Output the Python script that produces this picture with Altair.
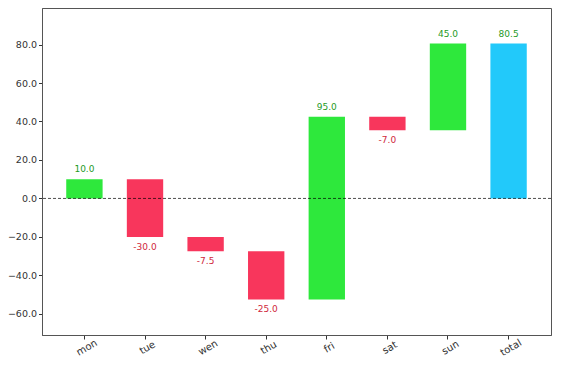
import altair as alt
import pandas as pd

days = ["mon", "tue", "wen", "thu", "fri", "sat", "sun", "total"]
changes = [10, -30, -7.5, -25, 95, -7, 45]

rows = []
cum = 0.0
for d, v in zip(days[:-1], changes):
    start, end = cum, cum + v
    cum = end
    rows.append({"day": d, "start": start, "end": end, "value": v,
                 "kind": "pos" if v >= 0 else "neg"})
rows.append({"day": days[-1], "start": 0.0, "end": cum, "value": cum, "kind": "total"})
df = pd.DataFrame(rows)
df["top"] = df[["start", "end"]].max(axis=1)
df["bottom"] = df[["start", "end"]].min(axis=1)
df["label"] = df["value"].map(lambda x: f"{x:.1f}")

FONT = "DejaVu Sans"
xenc = alt.X("day:N", sort=days, title=None,
             scale=alt.Scale(paddingInner=0.4, paddingOuter=0.4),
             axis=alt.Axis(labelAngle=-30, labelAlign="center", labelBaseline="top",
                           labelFontSize=10, labelColor="#333", tickColor="#333",
                           domainColor="#555", tickSize=4, labelPadding=4, grid=False))
yscale = alt.Scale(domain=[-71, 99], nice=False, zero=False)

base = alt.Chart(df)
bars = base.mark_bar().encode(
    x=xenc,
    y=alt.Y("start:Q", scale=yscale, title=None,
            axis=alt.Axis(values=[-60, -40, -20, 0, 20, 40, 60, 80],
                          labelExpr="format(datum.value, '.1f')",
                          labelFontSize=9.5, labelColor="#333", tickColor="#333",
                          domainColor="#555", tickSize=3.5, labelPadding=2, grid=False)),
    y2="end:Q",
    color=alt.Color("kind:N", legend=None,
                    scale=alt.Scale(domain=["pos", "neg", "total"],
                                    range=["#2ee83c", "#f8365c", "#22c9fa"])),
)

pos_text = base.transform_filter("datum.kind != 'neg'").mark_text(
    baseline="bottom", dy=-5, fontSize=9, font=FONT, color="#1f9a1f"
).encode(x=alt.X("day:N", sort=days), y=alt.Y("top:Q", scale=yscale), text="label:N")

neg_text = base.transform_filter("datum.kind == 'neg'").mark_text(
    baseline="top", dy=6, fontSize=9, font=FONT, color="#d0283c"
).encode(x=alt.X("day:N", sort=days), y=alt.Y("bottom:Q", scale=yscale), text="label:N")

zero = alt.Chart(pd.DataFrame({"y": [0]})).mark_rule(
    color="black", strokeDash=[3, 2], strokeWidth=0.7
).encode(y=alt.Y("y:Q", scale=yscale))

chart = alt.layer(bars, zero, pos_text, neg_text).properties(
    width=509, height=327,
    autosize=alt.AutoSizeParams(type="none"),
    padding={"left": 34, "top": 0, "right": 2, "bottom": 24},
).configure_view(stroke="#555", strokeWidth=1).configure_axis(
    labelFont=FONT
)

chart.save("out.html", embed_options={"renderer": "svg", "actions": False})
